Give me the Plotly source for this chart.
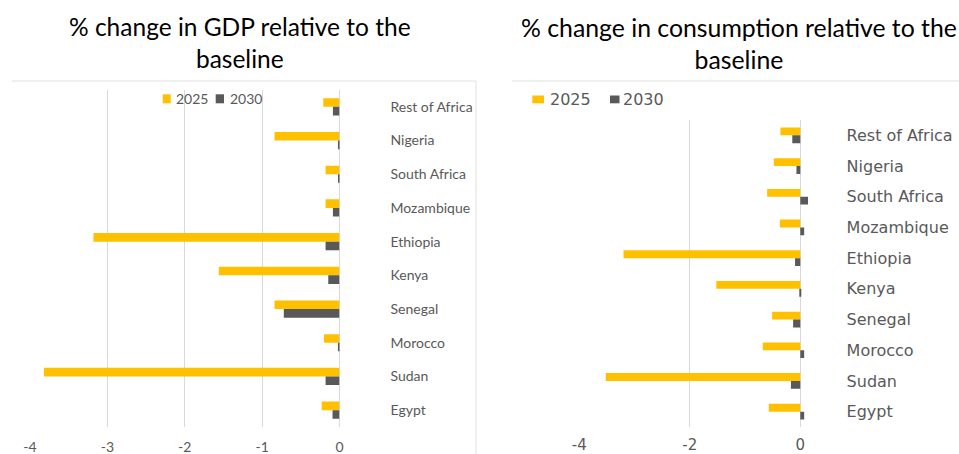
import plotly.graph_objects as go

categories = ["Rest of Africa", "Nigeria", "South Africa", "Mozambique", "Ethiopia",
              "Kenya", "Senegal", "Morocco", "Sudan", "Egypt"]
gdp_2025 = [-0.21, -0.84, -0.18, -0.18, -3.18, -1.56, -0.84, -0.20, -3.82, -0.23]
gdp_2030 = [-0.085, -0.02, -0.01, -0.085, -0.18, -0.145, -0.72, -0.02, -0.18, -0.09]
cons_2025 = [-0.36, -0.48, -0.60, -0.37, -3.20, -1.52, -0.51, -0.68, -3.52, -0.57]
cons_2030 = [-0.145, -0.07, 0.14, 0.07, -0.095, -0.01, -0.13, 0.07, -0.17, 0.07]
series_names = ["2025", "2030"]
left_ticks = [-4, -3, -2, -1, 0]
left_tick_labels = ["-4", "-3", "-2", "-1", "0"]
right_ticks = [-4, -2, 0]
right_tick_labels = ["-4", "-2", "0"]

YELLOW = "#FFC000"
GRAY = "#595959"
TXT = "#595959"
GRID = "#D9D9D9"
COLORS = [YELLOW, GRAY]

W, H = 959, 454


def px(x):
    return x / W


def py(y):
    return 1 - y / H


fig = go.Figure()
for name, vals, col in zip(series_names, [gdp_2025, gdp_2030], COLORS):
    fig.add_trace(go.Bar(y=categories, x=vals, name=name, orientation="h",
                         marker=dict(color=col, line=dict(width=0)),
                         xaxis="x", yaxis="y", showlegend=False))
for name, vals, col in zip(series_names, [cons_2025, cons_2030], COLORS):
    fig.add_trace(go.Bar(y=categories, x=vals, name=name, orientation="h",
                         marker=dict(color=col, line=dict(width=0)),
                         xaxis="x2", yaxis="y2", showlegend=False))

# legend keys (left chart and right chart) built from series names/colours
legend_specs = [
    # (square x0, x1, y0, y1, text x, text y, font size, family)
    [(162.7, 170.7, 94.3, 103.3, 173.5, 98.5, 14, "Lato"),
     (215.7, 224.0, 94.3, 103.3, 227.5, 98.5, 14, "Lato")],
    [(532.3, 544.0, 95.5, 103.3, 547.5, 99.5, 16, "DejaVu Sans"),
     (610.0, 619.5, 95.5, 103.3, 621.0, 99.5, 16, "DejaVu Sans")],
]
shapes = [
    dict(type="line", xref="paper", yref="paper", x0=px(12), x1=px(476), y0=py(81), y1=py(81),
         line=dict(color="#E0E0E0", width=1)),
    dict(type="line", xref="paper", yref="paper", x0=px(476), x1=px(476), y0=py(81), y1=0,
         line=dict(color="#E0E0E0", width=1)),
    dict(type="line", xref="paper", yref="paper", x0=px(512), x1=1, y0=py(81), y1=py(81),
         line=dict(color="#E0E0E0", width=1)),
]
annotations = [
    dict(text="% change in GDP relative to the<br>baseline", x=px(240), y=py(10),
         xref="paper", yref="paper", showarrow=False, xanchor="center", yanchor="top",
         font=dict(size=24.5, color="#000000", family="Lato")),
    dict(text="% change in consumption relative to the<br>baseline", x=px(739), y=py(11),
         xref="paper", yref="paper", showarrow=False, xanchor="center", yanchor="top",
         font=dict(size=24.8, color="#000000", family="Lato")),
]
for spec in legend_specs:
    for (x0, x1, y0, y1, tx, ty, fs, fam), name, col in zip(spec, series_names, COLORS):
        shapes.append(dict(type="rect", xref="paper", yref="paper",
                           x0=px(x0), x1=px(x1), y0=py(y1), y1=py(y0),
                           fillcolor=col, line=dict(width=0)))
        annotations.append(dict(text=name, x=px(tx), y=py(ty), xref="paper", yref="paper",
                                showarrow=False, xanchor="left", yanchor="middle",
                                font=dict(size=fs, color=TXT, family=fam)))

fig.update_layout(
    width=W, height=H, margin=dict(l=0, r=0, t=0, b=0, autoexpand=False),
    paper_bgcolor="white", plot_bgcolor="white",
    barmode="group", bargap=0.49, bargroupgap=0,
    font=dict(family="Lato", color=TXT),
    hovermode=False,
    xaxis=dict(domain=[px(30), px(339.5)], range=[-4, 0], tickvals=left_ticks,
               ticktext=left_tick_labels, automargin=False,
               showgrid=True, gridcolor=GRID, zeroline=True, zerolinecolor=GRID,
               zerolinewidth=1, showline=False, ticks="", fixedrange=True,
               tickfont=dict(size=14, color=TXT, family="Lato"),
               ticklabelstandoff=10, anchor="y"),
    yaxis=dict(domain=[py(427), py(90)], categoryorder="array", categoryarray=categories,
               autorange="reversed", side="right", showgrid=False, zeroline=False,
               showline=False, ticks="", anchor="x", automargin=False,
               tickfont=dict(size=14, color=TXT, family="Lato"),
               ticklabelstandoff=50),
    xaxis2=dict(domain=[px(579.3), px(808.6)], range=[-4, 0.15], tickvals=right_ticks,
                ticktext=right_tick_labels, automargin=False,
                showgrid=True, gridcolor=GRID, zeroline=True, zerolinecolor=GRID,
                zerolinewidth=1, showline=False, ticks="", fixedrange=True,
                tickfont=dict(size=15, color=TXT, family="DejaVu Sans"),
                ticklabelstandoff=7, anchor="y2"),
    yaxis2=dict(domain=[py(427), py(120)], categoryorder="array", categoryarray=categories,
                autorange="reversed", side="right", showgrid=False, zeroline=False,
                showline=False, ticks="", anchor="x2", automargin=False,
                tickfont=dict(size=16, color=TXT, family="DejaVu Sans"),
                ticklabelstandoff=37),
    annotations=annotations,
    shapes=shapes,
)

# remove the browser's default 8px body margin so the figure fills the window
fig.write_html("out.html", config={"displayModeBar": False},
               post_script="document.body.style.margin='0';document.body.style.overflow='hidden';")
